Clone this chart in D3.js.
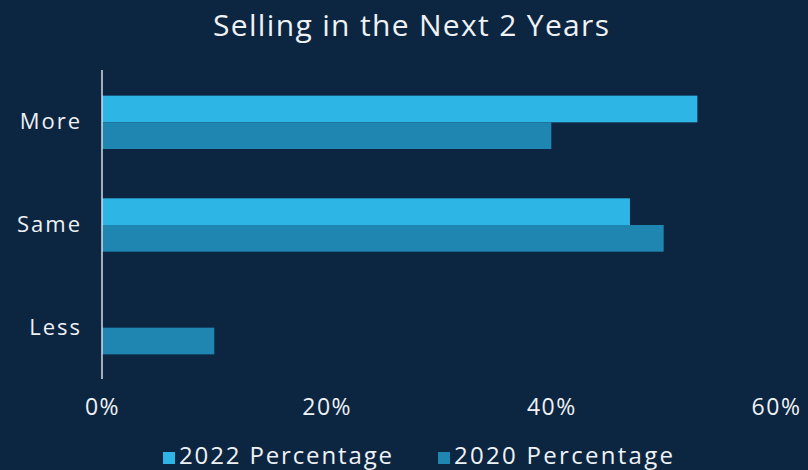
<!DOCTYPE html>
<html>
<head>
<meta charset="utf-8">
<script src="https://cdn.jsdelivr.net/npm/d3@7"></script>
<style>
  html, body { margin: 0; padding: 0; background: #0c2540; }
  svg { display: block; }
  text { font-family: "Open Sans", Lato, sans-serif; font-weight: 500; fill: #eef2f5; }
</style>
</head>
<body>
<svg id="chart" width="808" height="470"></svg>
<script>
// Share of respondents expecting to sell more / same / less in the next 2 years
const categories = ["More", "Same", "Less"];
const seriesNames = ["2022 Percentage", "2020 Percentage"];
const values2022 = [53, 47, 0];
const values2020 = [40, 50, 10];
const tickValues = [0, 20, 40, 60];

const colors = ["#2db5e5", "#1f86b1"];
const W = 808, H = 470;

const svg = d3.select("#chart");
svg.append("rect").attr("width", W).attr("height", H).attr("fill", "#0c2540");

const x = d3.scaleLinear().domain([0, 60]).range([102, 776]);
const y0 = d3.scaleBand().domain(categories).range([71, 379])
  .paddingInner(0.48).paddingOuter(0.24);
const y1 = d3.scaleBand().domain(seriesNames).range([0, y0.bandwidth()]);

const rows = categories.map((c, i) => ({
  cat: c,
  vals: [values2022[i], values2020[i]]
}));

// Title
svg.append("text")
  .attr("x", 411).attr("y", 36)
  .attr("text-anchor", "middle")
  .attr("textLength", 396)
  .attr("lengthAdjust", "spacing")
  .style("font-size", "30px")
  .text("Selling in the Next 2 Years");

// Bars
const g = svg.append("g");
g.selectAll("g.cat")
  .data(rows)
  .join("g")
  .attr("class", "cat")
  .attr("transform", d => `translate(0,${y0(d.cat)})`)
  .selectAll("rect")
  .data(d => d.vals.map((v, j) => ({ v, s: seriesNames[j], j })))
  .join("rect")
  .attr("x", x(0))
  .attr("y", d => y1(d.s))
  .attr("height", y1.bandwidth())
  .attr("width", d => x(d.v) - x(0))
  .attr("fill", d => colors[d.j]);

// Category axis (line only, labels to the left)
const yAxis = svg.append("g")
  .attr("transform", `translate(${x(0)},0)`)
  .call(d3.axisLeft(y0).tickSize(0).tickPadding(20));
yAxis.select(".domain").remove();
yAxis.selectAll("text")
  .style("font-size", "22px")
  .style("letter-spacing", "2px")
  .attr("fill", "#eef2f5");
svg.append("line")
  .attr("x1", x(0)).attr("x2", x(0))
  .attr("y1", 70).attr("y2", 379)
  .attr("stroke", "#d5dde4").attr("stroke-width", 1.5);

// Value axis labels
const xAxis = svg.append("g")
  .attr("transform", "translate(0,399)")
  .call(d3.axisBottom(x).tickValues(tickValues).tickSize(0).tickPadding(0)
    .tickFormat(d => d + "%"));
xAxis.select(".domain").remove();
xAxis.selectAll("text")
  .style("font-size", "23px")
  .style("letter-spacing", "1.5px")
  .attr("fill", "#eef2f5");

// Legend
const legendX = [163, 438];
const legendW = [213, 219];
const legend = svg.append("g");
seriesNames.forEach((name, i) => {
  legend.append("rect")
    .attr("x", legendX[i]).attr("y", 452)
    .attr("width", 12).attr("height", 12)
    .attr("fill", colors[i]);
  legend.append("text")
    .attr("x", legendX[i] + 16).attr("y", 464)
    .attr("textLength", legendW[i])
    .attr("lengthAdjust", "spacing")
    .style("font-size", "24px")
    .text(name);
});
</script>
</body>
</html>
